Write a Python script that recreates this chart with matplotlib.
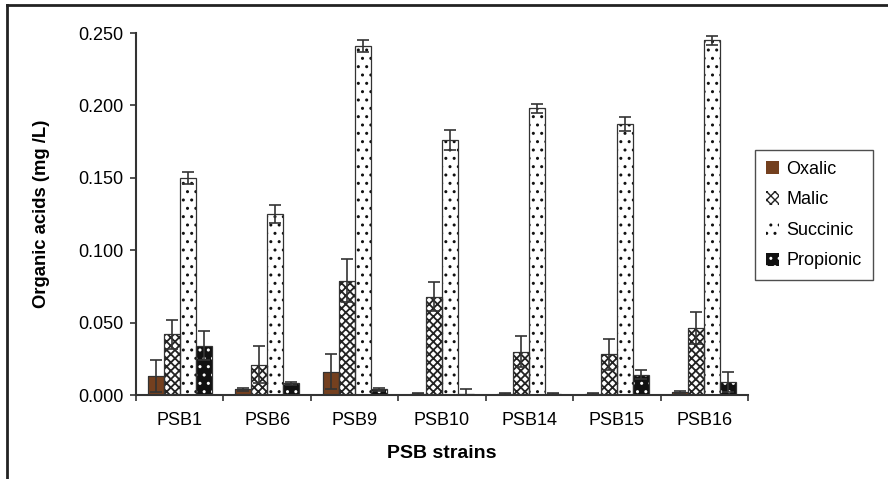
"""Organic acids produced by PSB strains: grouped bars with error bars."""

import matplotlib
matplotlib.use("Agg")
import matplotlib.pyplot as plt
import numpy as np
from matplotlib.lines import Line2D

strains = ["PSB1", "PSB6", "PSB9", "PSB10", "PSB14", "PSB15", "PSB16"]
acids = ["Oxalic", "Malic", "Succinic", "Propionic"]

oxalic = [0.013, 0.004, 0.016, 0.001, 0.001, 0.001, 0.002]
oxalic_err = [0.011, 0.001, 0.012, 0.0005, 0.0005, 0.0005, 0.001]
malic = [0.042, 0.021, 0.079, 0.068, 0.030, 0.028, 0.046]
malic_err = [0.010, 0.013, 0.015, 0.010, 0.011, 0.011, 0.011]
succinic = [0.150, 0.125, 0.241, 0.176, 0.198, 0.187, 0.245]
succinic_err = [0.004, 0.006, 0.004, 0.007, 0.003, 0.005, 0.003]
propionic = [0.034, 0.008, 0.004, 0.001, 0.001, 0.014, 0.009]
propionic_err = [0.010, 0.001, 0.001, 0.003, 0.0005, 0.003, 0.007]

values = [oxalic, malic, succinic, propionic]
errors = [oxalic_err, malic_err, succinic_err, propionic_err]

# face, hatch, hatch colour, hatch linewidth per acid
styles = [
    ("#74401f", "", "#74401f", 1.0),
    ("white", "xxxx", "#222222", 1.3),
    ("white", "..", "#111111", 1.0),
    ("#111111", "..", "white", 1.0),
]

plt.rcParams["font.family"] = ["Liberation Sans", "DejaVu Sans"]


def hatched(patch, lw):
    if hasattr(patch, "set_hatch_linewidth"):
        patch.set_hatch_linewidth(lw)


fig = plt.figure(figsize=(8.88, 4.79), dpi=100)
ax = fig.add_axes([136 / 888, 1 - 395 / 479, (748 - 136) / 888, (395 - 33) / 479])

x = np.arange(len(strains))
w = 0.183
handles = []
for i, (name, vals, errs) in enumerate(zip(acids, values, errors)):
    face, hatch, hcol, hlw = styles[i]
    pos = x + (i - 1.5) * w
    with plt.rc_context({"hatch.linewidth": hlw}):
        bars = ax.bar(pos, vals, w, color=face, edgecolor=hcol, hatch=hatch, linewidth=0, zorder=2)
        for b in bars:
            hatched(b, hlw)
        h = plt.Rectangle((0, 0), 1, 1, facecolor=face, edgecolor=hcol, hatch=hatch, linewidth=0)
        hatched(h, hlw)
    handles.append(h)
    ax.bar(pos, vals, w, fill=False, edgecolor="#333333", linewidth=0.9, zorder=3)
    ax.errorbar(pos, vals, yerr=errs, fmt="none", ecolor="#333333", elinewidth=1.2,
                capsize=4.5, capthick=1.2, zorder=4)

ax.set_xlim(-0.5, len(strains) - 0.5)
ax.set_ylim(0, 0.25)
yt = np.arange(0, 0.2501, 0.05)
ax.set_yticks(yt)
ax.set_yticklabels([f"{v:.3f}" for v in yt])
ax.set_xticks(x)
ax.set_xticklabels(strains)
ax.set_xticks(np.arange(-0.5, len(strains), 1), minor=True)
ax.tick_params(axis="x", which="major", length=0, pad=12, labelsize=13)
ax.tick_params(axis="x", which="minor", length=4, width=1.2, color="#333333")
ax.tick_params(axis="y", length=4, width=1.2, color="#333333", labelsize=13, pad=5)

for side in ["top", "right"]:
    ax.spines[side].set_visible(False)
for side in ["left", "bottom"]:
    ax.spines[side].set_linewidth(1.5)
    ax.spines[side].set_color("#333333")

ax.set_xlabel("PSB strains", fontsize=14, fontweight="bold", labelpad=12)
ax.set_ylabel("Organic acids (mg /L)", fontsize=13.3, fontweight="bold", labelpad=20)

leg = fig.legend(handles, acids, loc="upper left", bbox_to_anchor=(755 / 888, 1 - 150 / 479),
                 frameon=True, fancybox=False, edgecolor="#222222", fontsize=13,
                 handlelength=0.75, handleheight=0.75, handletextpad=0.4, labelspacing=0.75,
                 borderpad=0.6, borderaxespad=0)
leg.get_frame().set_linewidth(1.0)

# outer frame: top and left only
fig.add_artist(Line2D([7 / 888, 1], [1 - 5 / 479, 1 - 5 / 479], transform=fig.transFigure,
                      color="#222222", linewidth=2))
fig.add_artist(Line2D([7 / 888, 7 / 888], [0, 1 - 5 / 479], transform=fig.transFigure,
                      color="#222222", linewidth=2))

fig.savefig("out.png", dpi=100)
